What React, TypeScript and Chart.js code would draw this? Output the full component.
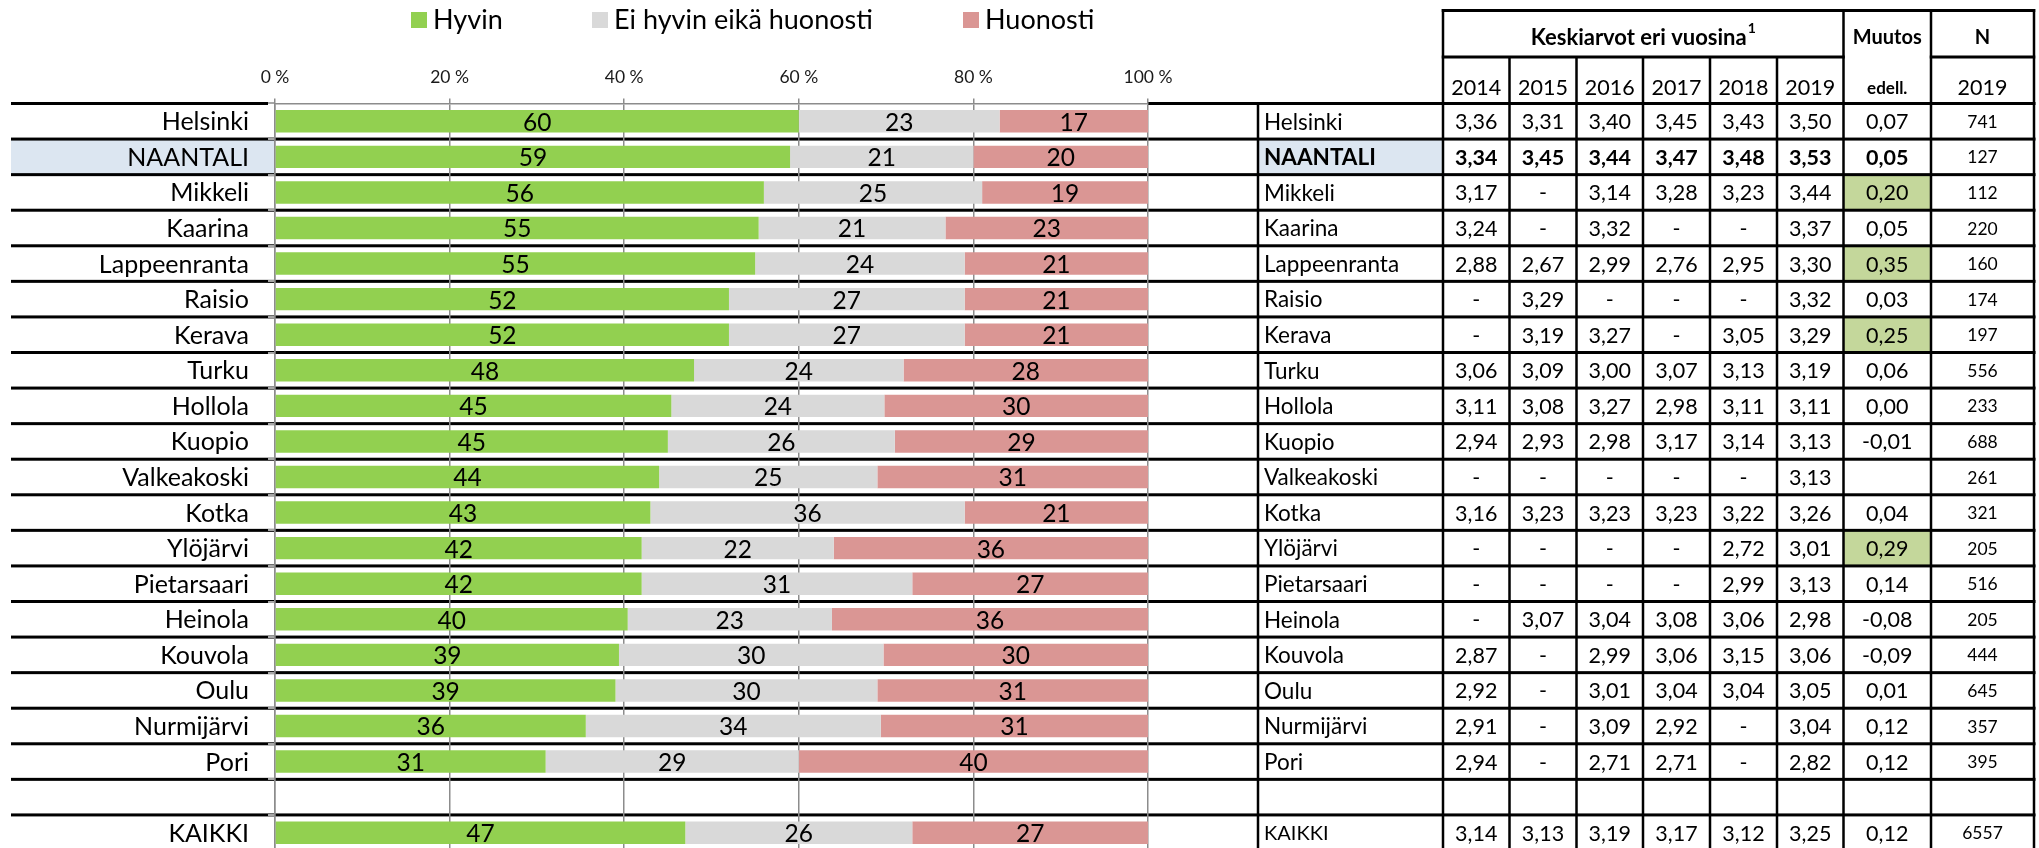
import React, { useEffect, useRef } from 'react';
import { Chart, registerables } from 'chart.js';

Chart.register(...registerables);

// ---------- DATA ----------
const categories = ['Helsinki', 'NAANTALI', 'Mikkeli', 'Kaarina', 'Lappeenranta', 'Raisio', 'Kerava', 'Turku', 'Hollola', 'Kuopio', 'Valkeakoski', 'Kotka', 'Ylöjärvi', 'Pietarsaari', 'Heinola', 'Kouvola', 'Oulu', 'Nurmijärvi', 'Pori', '', 'KAIKKI'];
const seriesNames = ['Hyvin', 'Ei hyvin eikä huonosti', 'Huonosti'];
const hyvin = [60, 59, 56, 55.4, 55, 52, 52, 48, 45.4, 45, 44, 43, 42, 42, 40.4, 39.4, 39, 35.6, 31, null, 47];
const eiHyvinEikaHuonosti = [23, 21, 25, 21.4, 24, 27, 27, 24, 24.4, 26, 25, 36, 22, 31, 23.4, 30.3, 30, 33.8, 29, null, 26];
const huonosti = [17, 20, 19, 23.2, 21, 21, 21, 28, 30.2, 29, 31, 21, 36, 27, 36.2, 30.3, 31, 30.6, 40, null, 27];
const xTicks = [0, 20, 40, 60, 80, 100];

const tableYears = ['2014', '2015', '2016', '2017', '2018', '2019'];
const avg2014 = [3.36, 3.34, 3.17, 3.24, 2.88, null, null, 3.06, 3.11, 2.94, null, 3.16, null, null, null, 2.87, 2.92, 2.91, 2.94, null, 3.14];
const avg2015 = [3.31, 3.45, null, null, 2.67, 3.29, 3.19, 3.09, 3.08, 2.93, null, 3.23, null, null, 3.07, null, null, null, null, null, 3.13];
const avg2016 = [3.40, 3.44, 3.14, 3.32, 2.99, null, 3.27, 3.00, 3.27, 2.98, null, 3.23, null, null, 3.04, 2.99, 3.01, 3.09, 2.71, null, 3.19];
const avg2017 = [3.45, 3.47, 3.28, null, 2.76, null, null, 3.07, 2.98, 3.17, null, 3.23, null, null, 3.08, 3.06, 3.04, 2.92, 2.71, null, 3.17];
const avg2018 = [3.43, 3.48, 3.23, null, 2.95, null, 3.05, 3.13, 3.11, 3.14, null, 3.22, 2.72, 2.99, 3.06, 3.15, 3.04, null, null, null, 3.12];
const avg2019 = [3.50, 3.53, 3.44, 3.37, 3.30, 3.32, 3.29, 3.19, 3.11, 3.13, 3.13, 3.26, 3.01, 3.13, 2.98, 3.06, 3.05, 3.04, 2.82, null, 3.25];
const muutos = [0.07, 0.05, 0.20, 0.05, 0.35, 0.03, 0.25, 0.06, 0.00, -0.01, null, 0.04, 0.29, 0.14, -0.08, -0.09, 0.01, 0.12, 0.12, null, 0.12];
const n2019 = [741, 127, 112, 220, 160, 174, 197, 556, 233, 688, 261, 321, 205, 516, 205, 444, 645, 357, 395, null, 6557];
const highlightCity = 'NAANTALI';
const totalCity = 'KAIKKI';

// ---------- STYLE ----------
const COLORS = ['#92D050', '#D9D9D9', '#DA9694'];
const FONT = 'Lato, "Open Sans", sans-serif';
const BLUE = '#DCE6F1';
const GREEN_CELL = '#C4D79B';

const fmt = (v: number | null) => (v === null ? '-' : v.toFixed(2).replace('.', ','));

const tablePlugin = {
  id: 'tableAndLabels',
  beforeDraw(chart: any) {
    const { ctx, chartArea } = chart;
    const y = chart.scales.y;
    ctx.save();
    ctx.fillStyle = '#ffffff';
    ctx.fillRect(0, 0, chart.width, chart.height);
    const band = y.getPixelForValue(1) - y.getPixelForValue(0);
    const top = (i: number) => y.getPixelForValue(i) - band / 2;
    const cols = [1258, 1443, 1509.5, 1576.5, 1643, 1710, 1777, 1843.5, 1931, 2034];
    const H = chart.height;

    categories.forEach((c, i) => {
      if (c === highlightCity) {
        ctx.fillStyle = BLUE;
        ctx.fillRect(11, top(i), chartArea.left - 11, band);
        ctx.fillRect(cols[0], top(i), cols[1] - cols[0], band);
      }
      const m = muutos[i];
      if (m !== null && m >= 0.2) {
        ctx.fillStyle = GREEN_CELL;
        ctx.fillRect(cols[7], top(i), cols[8] - cols[7], band);
      }
    });

    ctx.fillStyle = '#000';
    for (let k = 0; k <= categories.length; k++) {
      const yy = top(k);
      if (k === 0) {
        ctx.fillRect(11, yy - 1.5, chartArea.left - 11 - 7, 3);
        ctx.fillRect(chartArea.right, yy - 1.5, cols[9] + 1.5 - chartArea.right, 3);
      } else {
        ctx.fillRect(11, yy - 1.5, cols[9] + 1.5 - 11, 3);
      }
    }
    const v = (x: number, y0: number, y1: number) => ctx.fillRect(x - 1.25, y0, 2.5, y1 - y0);
    v(cols[0], top(0), H);
    v(cols[1], 9, H);
    for (let c = 2; c <= 6; c++) v(cols[c], 56, H);
    v(cols[7], 9, H);
    v(cols[8], 9, H);
    v(cols[9], 9, H);
    ctx.fillRect(cols[1] - 1.25, 9, cols[9] - cols[1] + 2.5, 3);
    ctx.fillRect(cols[1] - 1.25, 55.5, cols[7] - cols[1] + 2.5, 3);
    ctx.fillRect(cols[8] - 1.25, 55.5, cols[9] - cols[8] + 2.5, 3);
    ctx.restore();
  },
  afterDraw(chart: any) {
    const { ctx, chartArea } = chart;
    const y = chart.scales.y;
    const cols = [1258, 1443, 1509.5, 1576.5, 1643, 1710, 1777, 1843.5, 1931, 2034];
    ctx.save();
    ctx.fillStyle = '#000';
    ctx.textBaseline = 'middle';

    // bar value labels
    chart.data.datasets.forEach((ds: any, di: number) => {
      const meta = chart.getDatasetMeta(di);
      meta.data.forEach((bar: any, i: number) => {
        const val = ds.data[i];
        if (val === null || val === undefined) return;
        ctx.font = `24.5px ${FONT}`;
        ctx.textAlign = 'center';
        ctx.fillText(String(Math.round(val)), (bar.x + bar.base) / 2, bar.y + 1.5);
      });
    });

    // category labels on the left
    ctx.textAlign = 'right';
    ctx.font = `25px ${FONT}`;
    categories.forEach((c, i) => {
      ctx.fillText(c, chartArea.left - 26, y.getPixelForValue(i) + 1);
    });

    // legend
    const legendX = [411, 592, 963];
    chart.data.datasets.forEach((ds: any, di: number) => {
      ctx.fillStyle = ds.backgroundColor;
      ctx.fillRect(legendX[di], 12, 16, 16);
      ctx.fillStyle = '#000';
      ctx.textAlign = 'left';
      ctx.font = `27px ${FONT}`;
      ctx.fillText(ds.label, legendX[di] + 22, 20);
    });

    // table header
    const cx = (a: number, b: number) => (a + b) / 2;
    ctx.textAlign = 'left';
    ctx.font = `bold 22px ${FONT}`;
    const headTxt = 'Keskiarvot eri vuosina';
    const w1 = ctx.measureText(headTxt).width;
    ctx.font = `bold 14px ${FONT}`;
    const w2 = ctx.measureText('1').width;
    const hx = cx(cols[1], cols[7]) - (w1 + w2 + 1) / 2;
    ctx.font = `bold 22px ${FONT}`;
    ctx.fillText(headTxt, hx, 38);
    ctx.font = `bold 14px ${FONT}`;
    ctx.fillText('1', hx + w1 + 1, 28);

    ctx.textAlign = 'center';
    ctx.font = `21.5px ${FONT}`;
    tableYears.forEach((yr, j) => ctx.fillText(yr, cx(cols[1 + j], cols[2 + j]), 88));
    ctx.font = `bold 20px ${FONT}`;
    ctx.fillText('Muutos', cx(cols[7], cols[8]), 38);
    ctx.fillText('N', cx(cols[8], cols[9]), 38);
    ctx.font = `bold 17px ${FONT}`;
    ctx.fillText('edell.', cx(cols[7], cols[8]), 89);
    ctx.font = `21.5px ${FONT}`;
    ctx.fillText('2019', cx(cols[8], cols[9]), 88);

    // table body
    const yearSeries = [avg2014, avg2015, avg2016, avg2017, avg2018, avg2019];
    categories.forEach((c, i) => {
      if (c === '') return;
      const yy = y.getPixelForValue(i) + 1;
      const bold = c === highlightCity ? 'bold ' : '';
      ctx.textAlign = 'left';
      ctx.font = c === totalCity ? `20px ${FONT}` : `${bold}22.5px ${FONT}`;
      ctx.fillText(c, cols[0] + 6, yy);
      ctx.textAlign = 'center';
      ctx.font = `${bold}21.5px ${FONT}`;
      yearSeries.forEach((s, j) => ctx.fillText(fmt(s[i]), cx(cols[1 + j], cols[2 + j]), yy));
      if (muutos[i] !== null) ctx.fillText(fmt(muutos[i]), cx(cols[7], cols[8]), yy);
      ctx.font = `17.5px ${FONT}`;
      if (n2019[i] !== null) ctx.fillText(String(n2019[i]), cx(cols[8], cols[9]), yy);
    });
    ctx.restore();
  },
};

export default function App() {
  const ref = useRef<HTMLCanvasElement>(null);
  useEffect(() => {
    if (!ref.current) return;
    const chart = new Chart(ref.current, {
      type: 'bar',
      data: {
        labels: categories,
        datasets: [
          { label: seriesNames[0], data: hyvin, backgroundColor: COLORS[0] },
          { label: seriesNames[1], data: eiHyvinEikaHuonosti, backgroundColor: COLORS[1] },
          { label: seriesNames[2], data: huonosti, backgroundColor: COLORS[2] },
        ],
      },
      options: {
        indexAxis: 'y',
        responsive: false,
        animation: false,
        devicePixelRatio: 1,
        layout: { padding: { left: 268, right: 891, top: 55.5, bottom: 19.5 } },
        datasets: { bar: { barPercentage: 0.63, categoryPercentage: 1 } },
        plugins: { legend: { display: false }, tooltip: { enabled: false } },
        scales: {
          x: {
            position: 'top',
            stacked: true,
            min: 0,
            max: 100,
            afterBuildTicks: (scale: any) => { scale.ticks = xTicks.map((v) => ({ value: v })); },
            ticks: {
              callback: (v: any) => `${v} %`,
              font: { family: FONT, size: 17.5 },
              color: '#1a1a1a',
              padding: 11,
              maxRotation: 0,
            },
            grid: { color: '#8c8c8c', lineWidth: 1.5, tickLength: 5 },
            border: { color: '#8c8c8c', width: 1.5 },
          },
          y: {
            stacked: true,
            ticks: { display: false },
            grid: { drawOnChartArea: false, tickLength: 7, color: '#a6a6a6', lineWidth: 2 },
            border: { color: '#8c8c8c', width: 1.5 },
          },
        },
      } as any,
      plugins: [tablePlugin],
    });
    return () => chart.destroy();
  }, []);
  return (
    <div style={{ position: 'fixed', left: 0, top: 0, width: 2039, height: 848, overflow: 'hidden', background: '#fff' }}>
      <canvas ref={ref} width={2039} height={870} style={{ display: 'block' }} />
    </div>
  );
}
